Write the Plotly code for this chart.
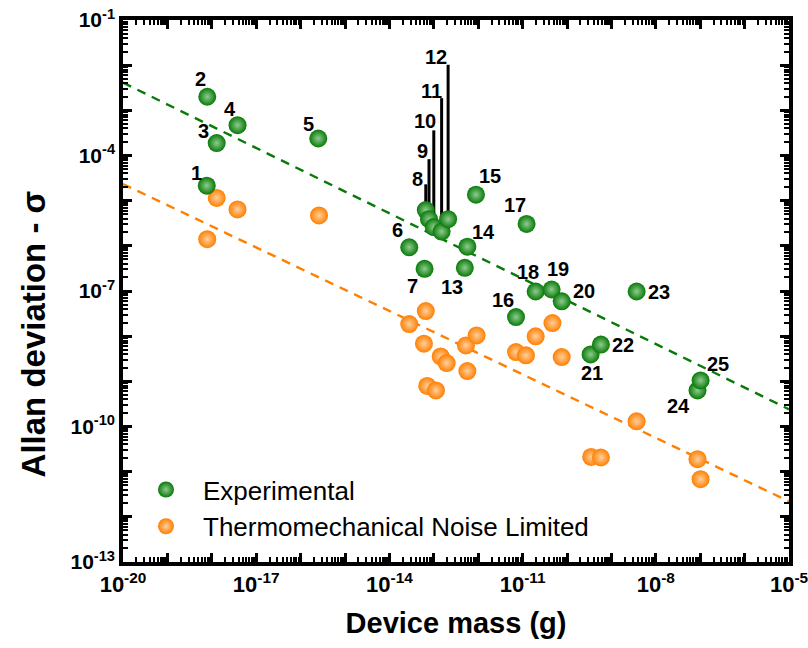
import numpy as np
import plotly.graph_objects as go

# ---- data -------------------------------------------------------------
device_ids = list(range(1, 26))
exp_mass = [7.7e-19, 7.9e-19, 1.29e-18, 3.8e-18, 2.5e-16, 2.8e-14, 6.2e-14, 6.6e-14,
            7.8e-14, 1.0e-13, 1.5e-13, 2.1e-13, 5.0e-13, 5.7e-13, 8.9e-13, 7.1e-12,
            1.23e-11, 1.97e-11, 4.5e-11, 7.6e-11, 3.4e-10, 5.8e-10, 3.7e-9, 8.7e-8, 1.02e-7]
exp_sigma = [2.15e-5, 2.0e-3, 1.88e-4, 4.7e-4, 2.38e-4, 9.3e-7, 3.1e-7, 6.2e-6,
             3.9e-6, 2.6e-6, 2.07e-6, 3.9e-6, 3.26e-7, 9.6e-7, 1.36e-5, 2.64e-8,
             3.05e-6, 9.75e-8, 1.08e-7, 5.9e-8, 3.95e-9, 6.5e-9, 9.75e-8, 6.3e-10, 1.05e-9]

tm_mass = [1.29e-18, 3.8e-18, 7.9e-19, 2.6e-16, 6.6e-14, 2.8e-14, 6.0e-14, 1.43e-13,
           1.95e-13, 7.1e-14, 1.12e-13, 5.3e-13, 9.2e-13, 5.7e-13, 7.1e-12, 1.19e-11,
           1.97e-11, 4.7e-11, 7.6e-11, 3.5e-10, 5.8e-10, 3.7e-9, 8.7e-8, 1.02e-7]
tm_sigma = [1.15e-5, 6.4e-6, 1.4e-6, 4.7e-6, 3.6e-8, 1.85e-8, 6.8e-9, 3.56e-9,
            2.54e-9, 7.9e-10, 6.3e-10, 6.25e-9, 1.04e-8, 1.69e-9, 4.45e-9, 3.76e-9,
            9.9e-9, 1.95e-8, 3.44e-9, 2.12e-11, 2.06e-11, 1.3e-10, 1.89e-11, 6.8e-12]

# straight-line fits (end points of each dashed trend)
fit_mass = [1e-20, 1e-5]
exp_fit = [4.1e-3, 2.4e-10]
tm_fit = [2.34e-5, 2.2e-12]

# leader lines for the crowded group (device id -> top of line)
leader_top = {8: 2.3e-5, 9: 8.3e-5, 10: 3.6e-4, 11: 1.86e-3, 12: 1.02e-2}

# label offsets in screen pixels (dx, dy upward)
label_offset = {
    1: (-10, 13), 2: (-7, 18), 3: (-13, 12), 4: (-8, 16), 5: (-10, 14),
    6: (-12, 17), 7: (-12, -17), 8: (-8, 31), 9: (-7, 68), 10: (-9, 106),
    11: (-10, 141), 12: (-12, 162), 13: (-13, -19), 14: (16, 15), 15: (14, 19),
    16: (-13, 17), 17: (-12, 19), 18: (-8, 20), 19: (6, 20), 20: (22, 10),
    21: (1, -19), 22: (22, 0), 23: (22, 0), 24: (-19, -16), 25: (17, 16),
}

x_decades = list(range(-20, -4))
y_decades = list(range(-13, 0))

GREEN = "#087a08"
ORANGE = "#ff7f00"
FONT = "Arial, Liberation Sans, sans-serif"

fig = go.Figure()

# dashed trend lines
fig.add_trace(go.Scatter(x=fit_mass, y=exp_fit, mode="lines",
                         line=dict(color=GREEN, width=2.4, dash="9px,7px"),
                         showlegend=False, hoverinfo="skip"))
fig.add_trace(go.Scatter(x=fit_mass, y=tm_fit, mode="lines",
                         line=dict(color=ORANGE, width=2.4, dash="9px,7px"),
                         showlegend=False, hoverinfo="skip"))

# leader lines
for dev, top in leader_top.items():
    i = device_ids.index(dev)
    fig.add_trace(go.Scatter(x=[exp_mass[i], exp_mass[i]], y=[exp_sigma[i], top],
                             mode="lines", line=dict(color="black", width=3),
                             showlegend=False, hoverinfo="skip"))

# points
fig.add_trace(go.Scatter(
    x=tm_mass, y=tm_sigma, mode="markers", name="Thermomechanical Noise Limited",
    marker=dict(size=18, color=ORANGE, line=dict(width=0),
                gradient=dict(type="radial", color="#ffcf9c"))))
fig.add_trace(go.Scatter(
    x=exp_mass, y=exp_sigma, mode="markers", name="Experimental",
    marker=dict(size=18, color=GREEN, line=dict(width=0),
                gradient=dict(type="radial", color="#8fcb8f"))))

# device labels
for dev, m, s in zip(device_ids, exp_mass, exp_sigma):
    dx, dy = label_offset[dev]
    fig.add_annotation(x=np.log10(m), y=np.log10(s), xref="x", yref="y",
                       text=str(dev), showarrow=False, xshift=dx, yshift=dy,
                       font=dict(family=FONT, size=20, color="black", weight="bold"))

# y-axis title placed as a rotated annotation
fig.add_annotation(x=-0.135, y=0.42, xref="paper", yref="paper",
                   text="Allan deviation - σ", textangle=-90, showarrow=False,
                   xanchor="center", yanchor="middle",
                   font=dict(family=FONT, size=33, color="black", weight="bold"))


def tick_text(decades, step_from):
    return [f"10<sup>{d}</sup>" if (d - step_from) % 3 == 0 else "" for d in decades]


def tick_vals(decades):
    return [float(f"1e{d}") for d in decades]


axis_common = dict(
    type="log", showline=True, linecolor="black", linewidth=3.5, mirror="allticks",
    ticks="inside", ticklen=9, tickwidth=2.5, tickcolor="black", showgrid=False,
    zeroline=False, tickmode="array", automargin=False, ticklabeloverflow="allow",
    minor=dict(ticks="inside", ticklen=5, tickwidth=2, tickcolor="black",
               showgrid=False, dtick="D1"),
)

fig.update_xaxes(
    range=[-20, -5], tickvals=tick_vals(x_decades + [-5]),
    ticktext=tick_text(x_decades + [-5], -20),
    tickfont=dict(family=FONT, size=22, color="black", weight="bold"),
    title=dict(text="Device mass (g)", font=dict(family=FONT, size=29, color="black", weight="bold"),
               standoff=18),
    **axis_common)
fig.update_yaxes(
    range=[-13, -1], tickvals=tick_vals(y_decades + [-1]),
    ticktext=tick_text(y_decades + [-1], -13),
    tickfont=dict(family=FONT, size=21, color="black", weight="bold"),
    **axis_common)

fig.update_layout(
    width=808, height=648,
    margin=dict(l=123, r=19, t=20, b=86),
    paper_bgcolor="white", plot_bgcolor="white",
    legend=dict(x=0.009, y=0.022, xanchor="left", yanchor="bottom",
                traceorder="reversed", bgcolor="rgba(0,0,0,0)",
                font=dict(family=FONT, size=26, color="black"),
                itemsizing="trace", itemwidth=64, tracegroupgap=0),
    showlegend=True,
)

fig.write_html("out.html")
